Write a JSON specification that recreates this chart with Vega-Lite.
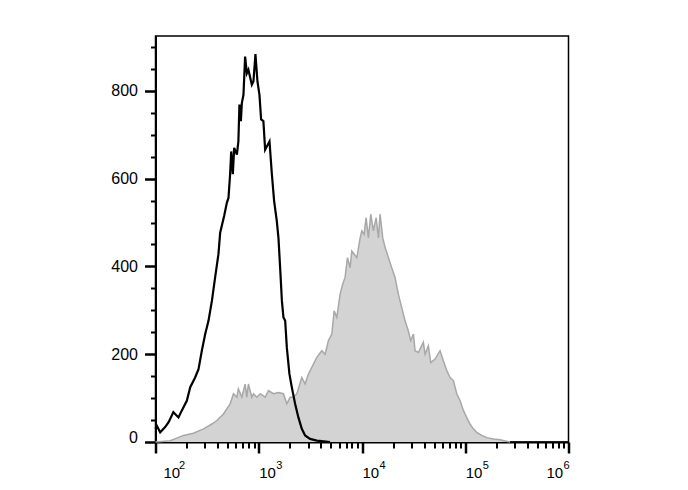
{
  "$schema": "https://vega.github.io/schema/vega-lite/v6.json",
  "width": 413,
  "height": 406,
  "autosize": {"type": "none"},
  "padding": {"left": 155.5, "top": 36, "right": 119.5, "bottom": 48},
  "background": "white",
  "config": {
    "view": {"stroke": "black", "strokeWidth": 1.5},
    "axis": {"labelFont": "Liberation Sans", "labelColor": "black", "grid": false, "title": null, "labelFlush": false, "labelOverlap": false}
  },
  "datasets": {
    "stained": [
      {"intensity": 100, "count": 0}, {"intensity": 139, "count": 3}, {"intensity": 187, "count": 15}, {"intensity": 233, "count": 20},
      {"intensity": 292, "count": 30}, {"intensity": 352, "count": 41}, {"intensity": 393, "count": 49}, {"intensity": 455, "count": 64},
      {"intensity": 528, "count": 87}, {"intensity": 569, "count": 110}, {"intensity": 614, "count": 102}, {"intensity": 635, "count": 121},
      {"intensity": 686, "count": 102}, {"intensity": 738, "count": 132}, {"intensity": 767, "count": 102}, {"intensity": 794, "count": 132},
      {"intensity": 857, "count": 102}, {"intensity": 889, "count": 110}, {"intensity": 959, "count": 102}, {"intensity": 1033, "count": 110},
      {"intensity": 1153, "count": 102}, {"intensity": 1242, "count": 117}, {"intensity": 1387, "count": 110}, {"intensity": 1552, "count": 113},
      {"intensity": 1734, "count": 110}, {"intensity": 1871, "count": 87}, {"intensity": 2014, "count": 102}, {"intensity": 2168, "count": 102},
      {"intensity": 2339, "count": 110}, {"intensity": 2612, "count": 147}, {"intensity": 2812, "count": 132}, {"intensity": 3027, "count": 155},
      {"intensity": 3266, "count": 170}, {"intensity": 3648, "count": 193}, {"intensity": 4083, "count": 208}, {"intensity": 4395, "count": 200},
      {"intensity": 4732, "count": 231}, {"intensity": 5105, "count": 246}, {"intensity": 5370, "count": 299}, {"intensity": 5702, "count": 284},
      {"intensity": 6138, "count": 337}, {"intensity": 6516, "count": 360}, {"intensity": 6855, "count": 375}, {"intensity": 7228, "count": 420},
      {"intensity": 7674, "count": 397}, {"intensity": 7962, "count": 435}, {"intensity": 8913, "count": 420}, {"intensity": 9594, "count": 465},
      {"intensity": 9954, "count": 481}, {"intensity": 10471, "count": 473}, {"intensity": 10965, "count": 511}, {"intensity": 11535, "count": 465},
      {"intensity": 12162, "count": 519}, {"intensity": 12882, "count": 481}, {"intensity": 13709, "count": 511}, {"intensity": 14421, "count": 465},
      {"intensity": 14962, "count": 519}, {"intensity": 15885, "count": 465}, {"intensity": 16749, "count": 443}, {"intensity": 18030, "count": 420},
      {"intensity": 19409, "count": 397}, {"intensity": 20893, "count": 375}, {"intensity": 22491, "count": 337}, {"intensity": 24266, "count": 306},
      {"intensity": 26122, "count": 276}, {"intensity": 28119, "count": 253}, {"intensity": 29648, "count": 231}, {"intensity": 31477, "count": 246},
      {"intensity": 32659, "count": 208}, {"intensity": 35156, "count": 204}, {"intensity": 39264, "count": 227}, {"intensity": 40832, "count": 200},
      {"intensity": 43954, "count": 219}, {"intensity": 46345, "count": 181}, {"intensity": 51050, "count": 189}, {"intensity": 57016, "count": 208},
      {"intensity": 61376, "count": 185}, {"intensity": 66222, "count": 163}, {"intensity": 71285, "count": 147}, {"intensity": 76736, "count": 140},
      {"intensity": 82794, "count": 110}, {"intensity": 89125, "count": 94}, {"intensity": 95940, "count": 72}, {"intensity": 103276, "count": 56},
      {"intensity": 111173, "count": 41}, {"intensity": 119674, "count": 30}, {"intensity": 129122, "count": 22}, {"intensity": 144544, "count": 15},
      {"intensity": 161436, "count": 10}, {"intensity": 187068, "count": 7}, {"intensity": 217270, "count": 5}, {"intensity": 271644, "count": 0}
    ],
    "control": [
      {"intensity": 100, "count": 30}, {"intensity": 103, "count": 37}, {"intensity": 111, "count": 22}, {"intensity": 124, "count": 34},
      {"intensity": 134, "count": 45}, {"intensity": 149, "count": 68}, {"intensity": 167, "count": 56}, {"intensity": 180, "count": 72},
      {"intensity": 201, "count": 94}, {"intensity": 217, "count": 125}, {"intensity": 242, "count": 147}, {"intensity": 261, "count": 166},
      {"intensity": 281, "count": 208}, {"intensity": 303, "count": 246}, {"intensity": 326, "count": 276}, {"intensity": 352, "count": 322},
      {"intensity": 378, "count": 375}, {"intensity": 407, "count": 428}, {"intensity": 423, "count": 477}, {"intensity": 462, "count": 515},
      {"intensity": 491, "count": 545}, {"intensity": 509, "count": 556}, {"intensity": 528, "count": 610}, {"intensity": 541, "count": 662},
      {"intensity": 561, "count": 610}, {"intensity": 578, "count": 670}, {"intensity": 614, "count": 655}, {"intensity": 635, "count": 685},
      {"intensity": 650, "count": 769}, {"intensity": 671, "count": 731}, {"intensity": 686, "count": 772}, {"intensity": 711, "count": 791},
      {"intensity": 738, "count": 878}, {"intensity": 767, "count": 840}, {"intensity": 794, "count": 848}, {"intensity": 857, "count": 814},
      {"intensity": 889, "count": 822}, {"intensity": 929, "count": 884}, {"intensity": 971, "count": 822}, {"intensity": 1016, "count": 791},
      {"intensity": 1054, "count": 735}, {"intensity": 1109, "count": 731}, {"intensity": 1153, "count": 666}, {"intensity": 1271, "count": 685},
      {"intensity": 1340, "count": 610}, {"intensity": 1409, "count": 549}, {"intensity": 1496, "count": 503}, {"intensity": 1552, "count": 465},
      {"intensity": 1611, "count": 397}, {"intensity": 1675, "count": 322}, {"intensity": 1734, "count": 284}, {"intensity": 1803, "count": 276},
      {"intensity": 1871, "count": 215}, {"intensity": 1982, "count": 155}, {"intensity": 2089, "count": 125}, {"intensity": 2249, "count": 87},
      {"intensity": 2421, "count": 56}, {"intensity": 2612, "count": 30}, {"intensity": 2812, "count": 15}, {"intensity": 3141, "count": 7},
      {"intensity": 3648, "count": 3}, {"intensity": 4083, "count": 2}, {"intensity": 4898, "count": 0}
    ]
  },
  "layer": [
    {
      "data": {"name": "stained"},
      "mark": {"type": "area", "color": "#d3d3d3"},
      "encoding": {
        "x": {
          "field": "intensity", "type": "quantitative",
          "scale": {"type": "log", "domain": [100, 1000000]},
          "axis": {
            "orient": "bottom",
            "values": [100, 1000, 10000, 100000, 1000000],
            "labelExpr": "'10'",
            "tickSize": 11, "tickWidth": 2.5, "tickColor": "black",
            "domainColor": "black", "domainWidth": 2,
            "labelFontSize": 15, "labelAlign": "left", "labelBaseline": "alphabetic",
            "labelPadding": 24.5,
            "labelOffset": {"condition": [{"test": "datum.value == 100", "value": 7.5}, {"test": "datum.value == 1000000", "value": -22.5}], "value": 0}
          }
        },
        "y": {
          "field": "count", "type": "quantitative",
          "scale": {"domain": [0, 925]},
          "axis": {
            "orient": "left",
            "values": [0, 200, 400, 600, 800],
            "tickSize": 11, "tickWidth": 2.5, "tickColor": "black",
            "domainColor": "black", "domainWidth": 2,
            "labelFontSize": 16, "labelPadding": 7,
            "labelBaseline": {"condition": {"test": "datum.value == 0", "value": "alphabetic"}, "value": "middle"}
          }
        }
      }
    },
    {
      "data": {"name": "stained"},
      "mark": {"type": "line", "color": "#a8a8a8", "strokeWidth": 1.5},
      "encoding": {
        "x": {
          "field": "intensity", "type": "quantitative",
          "scale": {"type": "log", "domain": [100, 1000000]},
          "axis": {
            "orient": "bottom",
            "values": [200, 300, 400, 500, 600, 700, 800, 900, 2000, 3000, 4000, 5000, 6000, 7000, 8000, 9000, 20000, 30000, 40000, 50000, 60000, 70000, 80000, 90000, 200000, 300000, 400000, 500000, 600000, 700000, 800000, 900000],
            "tickSize": 6, "tickWidth": 2, "tickColor": "black",
            "domain": false, "labels": false
          }
        },
        "y": {
          "field": "count", "type": "quantitative",
          "scale": {"domain": [0, 925]},
          "axis": {
            "orient": "left",
            "values": [50, 100, 150, 250, 300, 350, 450, 500, 550, 650, 700, 750, 850, 900],
            "tickSize": 5, "tickWidth": 2, "tickColor": "black",
            "domain": false, "labels": false
          }
        }
      }
    },
    {
      "data": {"name": "control"},
      "mark": {"type": "line", "color": "black", "strokeWidth": 2.2},
      "encoding": {
        "x": {
          "field": "intensity", "type": "quantitative",
          "scale": {"type": "log", "domain": [100, 1000000]},
          "axis": {
            "orient": "bottom",
            "values": [100, 1000, 10000, 100000, 1000000],
            "labelExpr": "'' + round(log(datum.value) / LN10)",
            "ticks": false, "tickSize": 0, "domain": false,
            "labelFontSize": 11, "labelAlign": "left", "labelBaseline": "alphabetic",
            "labelPadding": 26.5,
            "labelOffset": {"condition": [{"test": "datum.value == 100", "value": 23}, {"test": "datum.value == 1000000", "value": -5.5}], "value": 17}
          }
        },
        "y": {
          "field": "count", "type": "quantitative",
          "scale": {"domain": [0, 925]},
          "axis": null
        }
      }
    }
  ],
  "resolve": {"axis": {"x": "independent", "y": "independent"}}
}
